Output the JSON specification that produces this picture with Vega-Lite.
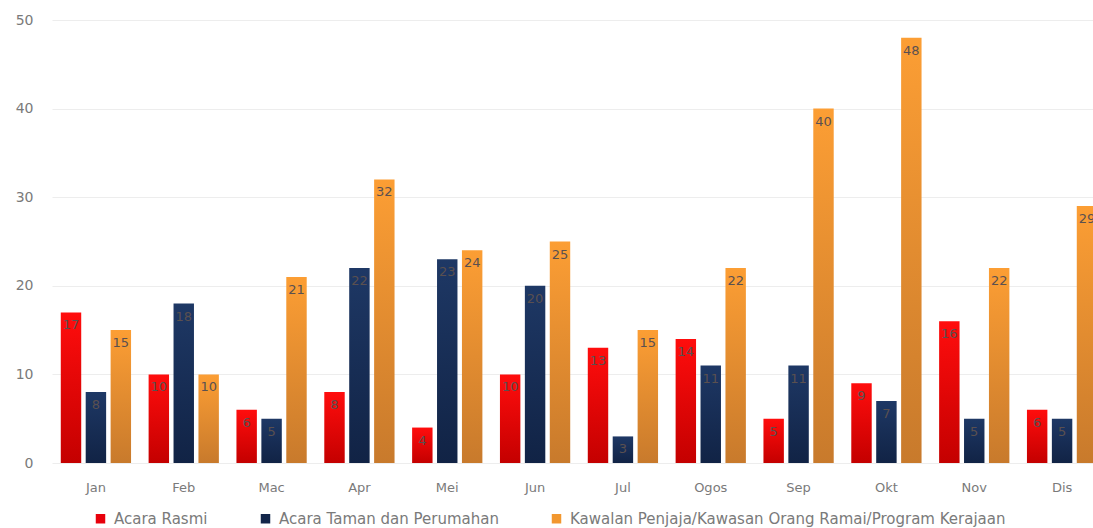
{
  "$schema": "https://vega.github.io/schema/vega-lite/v6.json",
  "autosize": {"type": "none"},
  "width": 1054,
  "height": 443,
  "padding": {"left": 52, "top": 20, "right": 0, "bottom": 65},
  "background": "white",
  "config": {
    "font": "DejaVu Sans",
    "view": {"stroke": null},
    "axis": {"labelFont": "DejaVu Sans", "labelColor": "#7a7a7a", "labelFontSize": 13}
  },
  "data": {
    "values": [
      {"bulan": "Jan", "kategori": "Acara Rasmi", "nilai": 17},
      {"bulan": "Jan", "kategori": "Acara Taman dan Perumahan", "nilai": 8},
      {"bulan": "Jan", "kategori": "Kawalan Penjaja/Kawasan Orang Ramai/Program Kerajaan", "nilai": 15},
      {"bulan": "Feb", "kategori": "Acara Rasmi", "nilai": 10},
      {"bulan": "Feb", "kategori": "Acara Taman dan Perumahan", "nilai": 18},
      {"bulan": "Feb", "kategori": "Kawalan Penjaja/Kawasan Orang Ramai/Program Kerajaan", "nilai": 10},
      {"bulan": "Mac", "kategori": "Acara Rasmi", "nilai": 6},
      {"bulan": "Mac", "kategori": "Acara Taman dan Perumahan", "nilai": 5},
      {"bulan": "Mac", "kategori": "Kawalan Penjaja/Kawasan Orang Ramai/Program Kerajaan", "nilai": 21},
      {"bulan": "Apr", "kategori": "Acara Rasmi", "nilai": 8},
      {"bulan": "Apr", "kategori": "Acara Taman dan Perumahan", "nilai": 22},
      {"bulan": "Apr", "kategori": "Kawalan Penjaja/Kawasan Orang Ramai/Program Kerajaan", "nilai": 32},
      {"bulan": "Mei", "kategori": "Acara Rasmi", "nilai": 4},
      {"bulan": "Mei", "kategori": "Acara Taman dan Perumahan", "nilai": 23},
      {"bulan": "Mei", "kategori": "Kawalan Penjaja/Kawasan Orang Ramai/Program Kerajaan", "nilai": 24},
      {"bulan": "Jun", "kategori": "Acara Rasmi", "nilai": 10},
      {"bulan": "Jun", "kategori": "Acara Taman dan Perumahan", "nilai": 20},
      {"bulan": "Jun", "kategori": "Kawalan Penjaja/Kawasan Orang Ramai/Program Kerajaan", "nilai": 25},
      {"bulan": "Jul", "kategori": "Acara Rasmi", "nilai": 13},
      {"bulan": "Jul", "kategori": "Acara Taman dan Perumahan", "nilai": 3},
      {"bulan": "Jul", "kategori": "Kawalan Penjaja/Kawasan Orang Ramai/Program Kerajaan", "nilai": 15},
      {"bulan": "Ogos", "kategori": "Acara Rasmi", "nilai": 14},
      {"bulan": "Ogos", "kategori": "Acara Taman dan Perumahan", "nilai": 11},
      {"bulan": "Ogos", "kategori": "Kawalan Penjaja/Kawasan Orang Ramai/Program Kerajaan", "nilai": 22},
      {"bulan": "Sep", "kategori": "Acara Rasmi", "nilai": 5},
      {"bulan": "Sep", "kategori": "Acara Taman dan Perumahan", "nilai": 11},
      {"bulan": "Sep", "kategori": "Kawalan Penjaja/Kawasan Orang Ramai/Program Kerajaan", "nilai": 40},
      {"bulan": "Okt", "kategori": "Acara Rasmi", "nilai": 9},
      {"bulan": "Okt", "kategori": "Acara Taman dan Perumahan", "nilai": 7},
      {"bulan": "Okt", "kategori": "Kawalan Penjaja/Kawasan Orang Ramai/Program Kerajaan", "nilai": 48},
      {"bulan": "Nov", "kategori": "Acara Rasmi", "nilai": 16},
      {"bulan": "Nov", "kategori": "Acara Taman dan Perumahan", "nilai": 5},
      {"bulan": "Nov", "kategori": "Kawalan Penjaja/Kawasan Orang Ramai/Program Kerajaan", "nilai": 22},
      {"bulan": "Dis", "kategori": "Acara Rasmi", "nilai": 6},
      {"bulan": "Dis", "kategori": "Acara Taman dan Perumahan", "nilai": 5},
      {"bulan": "Dis", "kategori": "Kawalan Penjaja/Kawasan Orang Ramai/Program Kerajaan", "nilai": 29}
    ]
  },
  "encoding": {
    "x": {
      "field": "bulan", "type": "nominal", "sort": null, "title": null,
      "scale": {"domain": ["Jan", "Feb", "Mac", "Apr", "Mei", "Jun", "Jul", "Ogos", "Sep", "Okt", "Nov", "Dis"], "paddingInner": 0.2, "paddingOuter": 0.1},
      "axis": {"labelAngle": 0, "ticks": false, "domain": false, "labelPadding": 18}
    },
    "xOffset": {
      "field": "kategori", "type": "nominal", "sort": null,
      "scale": {"domain": ["Acara Rasmi", "Acara Taman dan Perumahan", "Kawalan Penjaja/Kawasan Orang Ramai/Program Kerajaan"], "paddingInner": 0.18}
    },
    "y": {
      "field": "nilai", "type": "quantitative", "title": null,
      "scale": {"domain": [0, 50]},
      "axis": {"values": [0, 10, 20, 30, 40, 50], "ticks": false, "domain": false, "labelPadding": 19, "labelFontSize": 14, "gridColor": "#ededed", "gridWidth": 1.2}
    }
  },
  "layer": [
    {
      "mark": {"type": "bar", "opacity": 0},
      "encoding": {
        "color": {
          "field": "kategori", "type": "nominal", "sort": null, "title": null,
          "scale": {
            "domain": ["Acara Rasmi", "Acara Taman dan Perumahan", "Kawalan Penjaja/Kawasan Orang Ramai/Program Kerajaan"],
            "range": ["#e8000b", "#13264a", "#f2972f"]
          },
          "legend": {
            "orient": "none", "legendX": 41, "legendY": 491, "direction": "horizontal",
            "symbolType": "square", "symbolSize": 90, "symbolOpacity": 1, "labelFont": "DejaVu Sans", "labelFontSize": 15, "labelColor": "#7a7a7a",
            "columnPadding": 50, "labelOffset": 6, "labelLimit": 700
          }
        }
      }
    },
    {
      "transform": [{"filter": "datum.kategori === 'Acara Rasmi'"}],
      "mark": {"type": "bar", "color": {"gradient": "linear", "x1": 0, "y1": 0, "x2": 0, "y2": 1, "stops": [{"offset": 0, "color": "#ff0d0d"}, {"offset": 1, "color": "#c40000"}]}}
    },
    {
      "transform": [{"filter": "datum.kategori === 'Acara Taman dan Perumahan'"}],
      "mark": {"type": "bar", "color": {"gradient": "linear", "x1": 0, "y1": 0, "x2": 0, "y2": 1, "stops": [{"offset": 0, "color": "#1e3865"}, {"offset": 1, "color": "#112345"}]}}
    },
    {
      "transform": [{"filter": "datum.kategori === 'Kawalan Penjaja/Kawasan Orang Ramai/Program Kerajaan'"}],
      "mark": {"type": "bar", "color": {"gradient": "linear", "x1": 0, "y1": 0, "x2": 0, "y2": 1, "stops": [{"offset": 0, "color": "#fc9e34"}, {"offset": 1, "color": "#c87a2c"}]}}
    },
    {
      "mark": {"type": "text", "baseline": "middle", "dy": 13, "fontSize": 13, "font": "DejaVu Sans", "color": "#5a5050"},
      "encoding": {"text": {"field": "nilai", "type": "quantitative"}}
    }
  ]
}
